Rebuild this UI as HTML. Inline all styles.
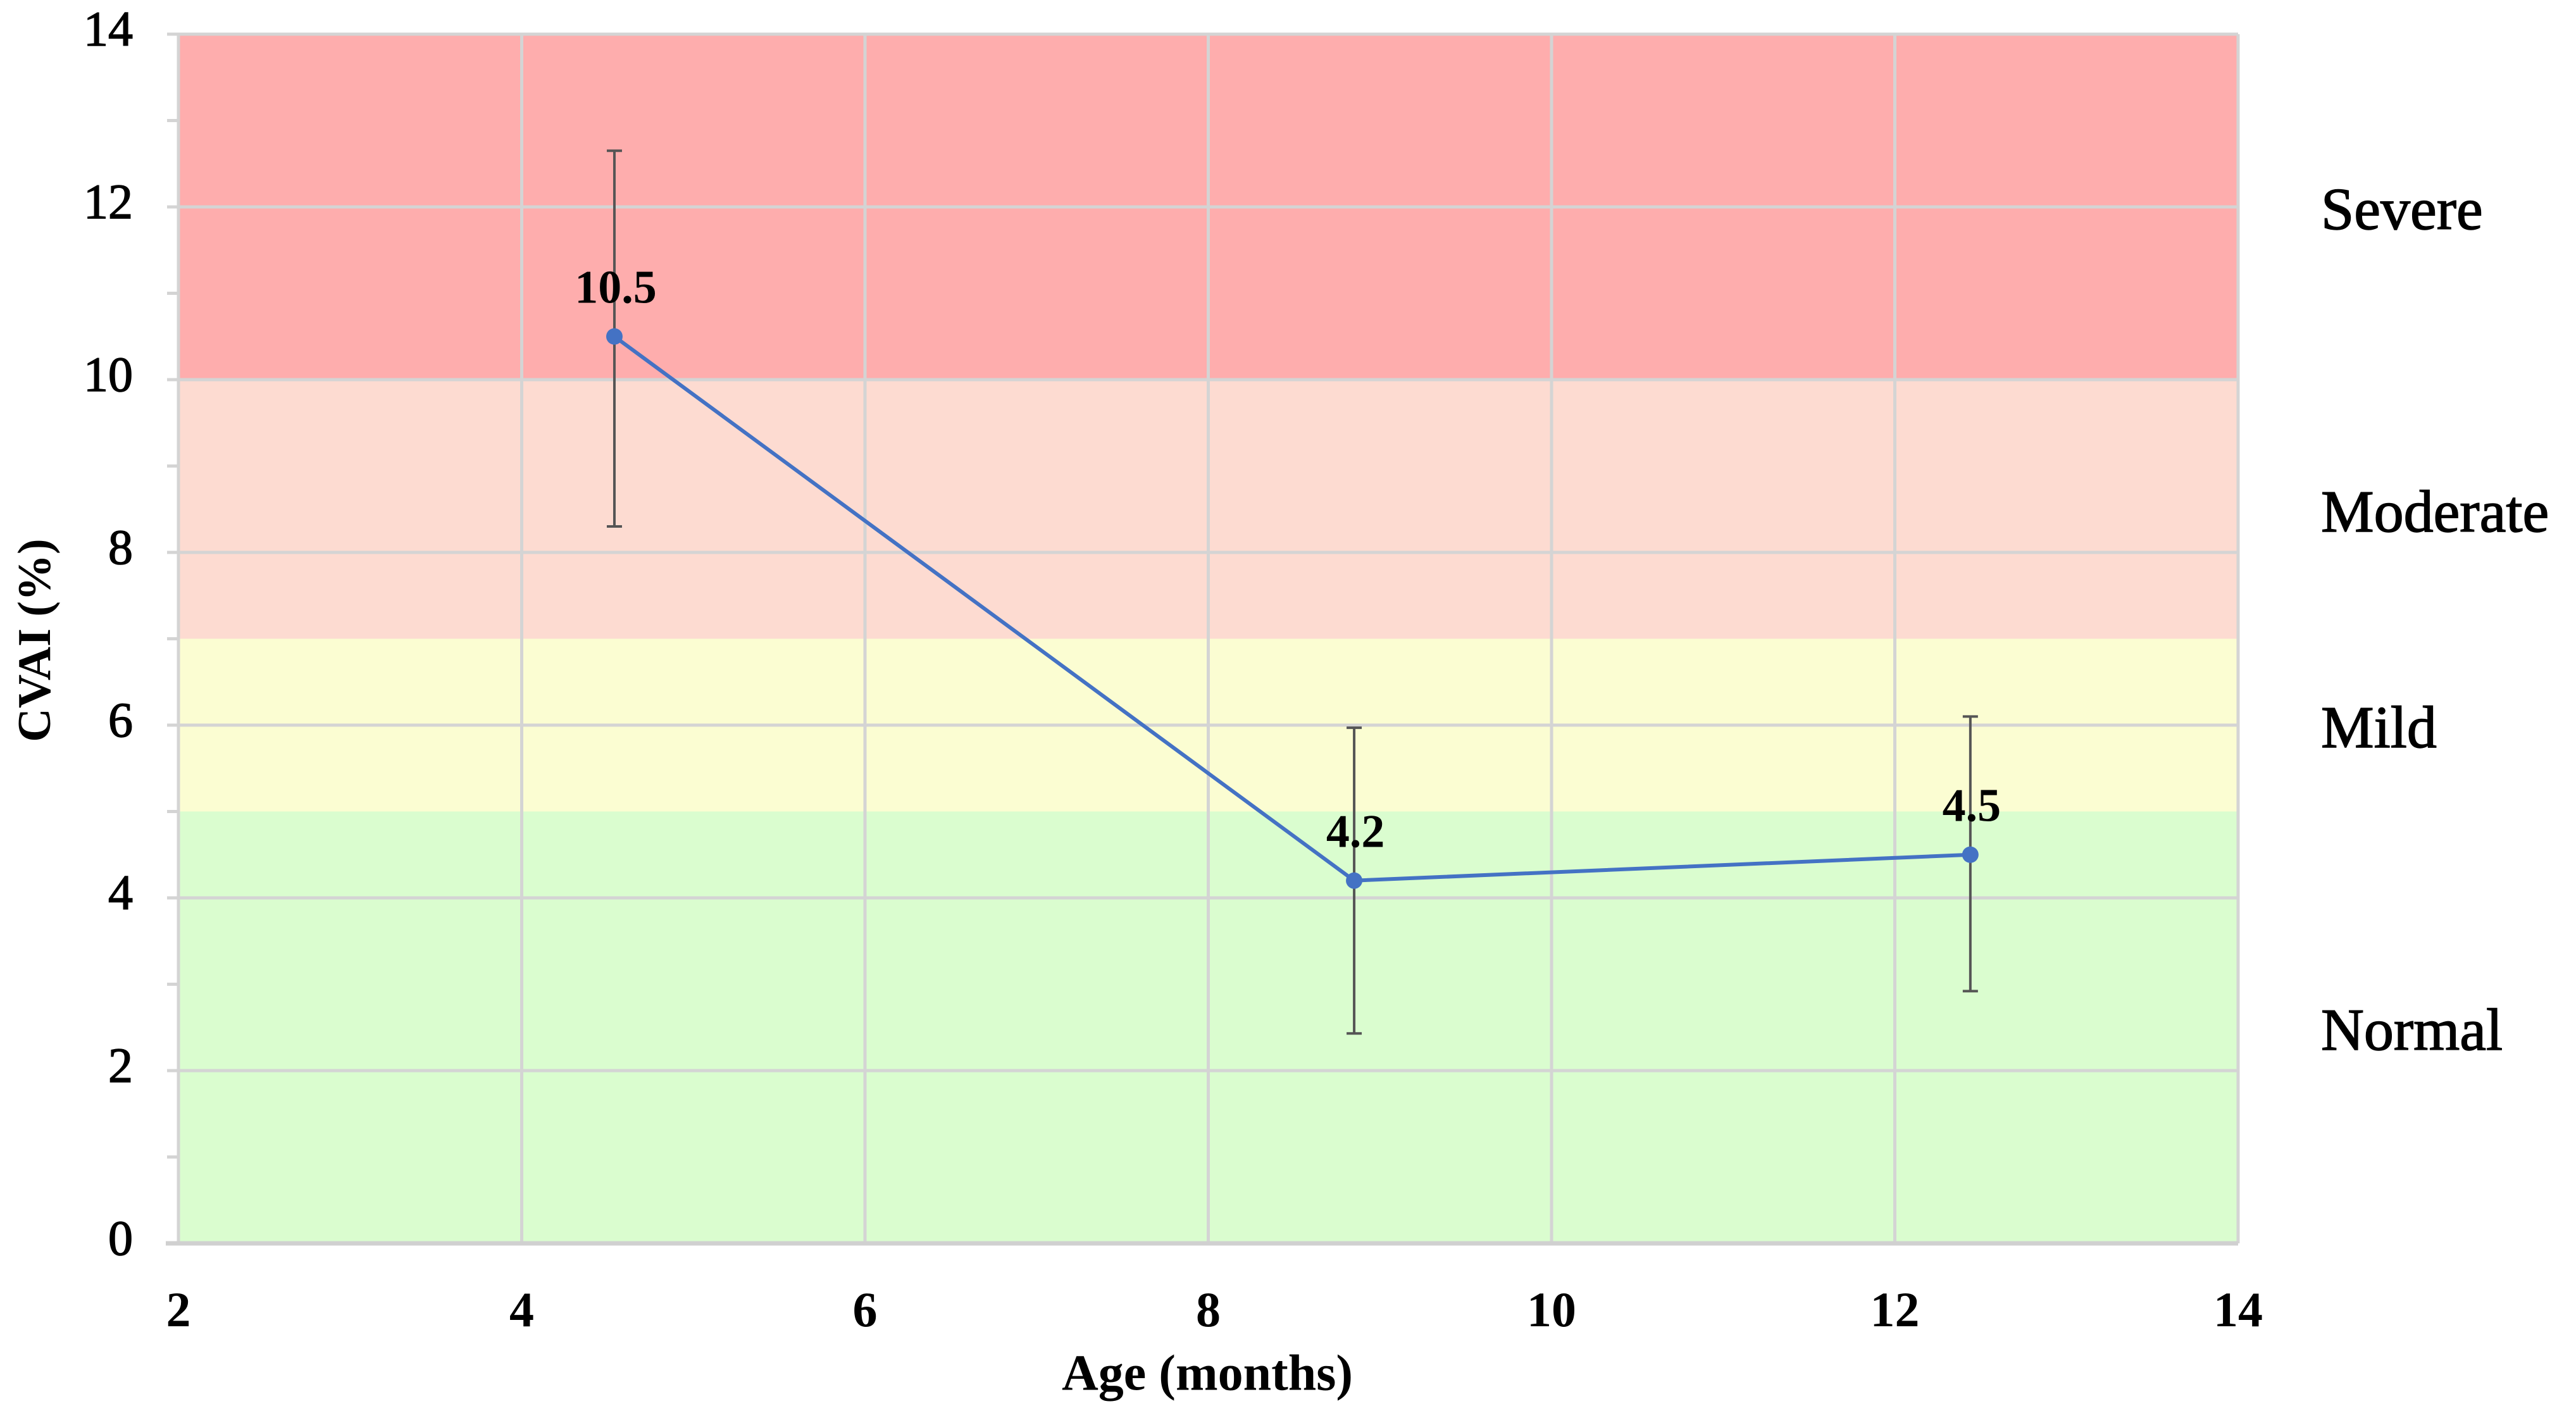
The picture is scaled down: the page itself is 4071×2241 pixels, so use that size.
<!DOCTYPE html>
<html><head><meta charset="utf-8"><style>
html,body{margin:0;padding:0;background:#fff;}
svg{display:block;font-family:"Liberation Serif",serif;}
</style></head><body>
<svg id="chart" width="4071" height="2241" viewBox="0 0 4071 2241" xmlns="http://www.w3.org/2000/svg">
<g id="bands"></g><g id="grid"></g><g id="axes"></g><g id="series"></g><g id="labels"></g>
</svg>
<script>
const xTicks = [2,4,6,8,10,12,14];
const yTicks = [0,2,4,6,8,10,12,14];
const ages = [4.54, 8.85, 12.44];
const cvai = [10.5, 4.2, 4.5];
const errHigh = [12.65, 5.97, 6.1];
const errLow = [8.3, 2.43, 2.92];
const valueLabels = ["10.5","4.2","4.5"];
const bandNames = ["Normal","Mild","Moderate","Severe"];
const bandLow = [0,5,7,10];
const bandHigh = [5,7,10,14];
const bandColors = ["#dafdcf","#fbfdd2","#fddbd1","#feadad"];
const bandLabelY = [2.4, 5.9, 8.4, 11.9];

const L=282,R=3537,T=54,B=1965;
const X=v=>L+(v-2)/(14-2)*(R-L);
const Y=v=>B-(v-0)/14*(B-T);
const NS="http://www.w3.org/2000/svg";
function mk(parent,tag,attrs){const e=document.createElementNS(NS,tag);for(const k in attrs)e.setAttribute(k,attrs[k]);document.getElementById(parent).appendChild(e);return e;}

bandLow.forEach((lo,i)=>{
  const r=mk('bands','rect',{x:L,y:Y(bandHigh[i]),width:R-L,height:Y(lo)-Y(bandHigh[i]),fill:bandColors[i]});
  
  
  const t=mk('labels','text',{x:3668,y:Y(bandLabelY[i]),'font-size':94,'dominant-baseline':'middle',fill:'#000',stroke:'#000','stroke-width':1.5});
  t.textContent=bandNames[i];
  
  
});
yTicks.forEach(v=>{
  const g=mk('grid','line',{x1:L,x2:R,y1:Y(v),y2:Y(v),stroke:'#d4d4d4','stroke-width':5});
  
  
  const tk=mk('axes','line',{x1:264,x2:L,y1:Y(v),y2:Y(v),stroke:'#d4d4d4','stroke-width':5});
  
  
  const t=mk('labels','text',{x:210,y:Y(v),'font-size':78,'text-anchor':'end','dominant-baseline':'middle',fill:'#000',stroke:'#000','stroke-width':1.5});
  t.textContent=v;
  
  
});
for(let i=0;i<yTicks.length-1;i++){
  const m=(yTicks[i]+yTicks[i+1])/2;
  const tk=mk('axes','line',{x1:264,x2:L,y1:Y(m),y2:Y(m),stroke:'#d4d4d4','stroke-width':5});
  
  
}
xTicks.forEach(v=>{
  const g=mk('grid','line',{x1:X(v),x2:X(v),y1:T,y2:B,stroke:'#d4d4d4','stroke-width':5});
  
  
  const t=mk('labels','text',{x:X(v),y:2078,'font-size':78,'font-weight':'bold','text-anchor':'middle','dominant-baseline':'middle',fill:'#000'});
  t.textContent=v;
  
  
});
const ax=mk('axes','line',{x1:L-20,x2:R,y1:B,y2:B,stroke:'#d0d0d0','stroke-width':7});



ages.forEach((a,i)=>{
  const e=mk('series','line',{x1:X(a),x2:X(a),y1:Y(errHigh[i]),y2:Y(errLow[i]),stroke:'#555','stroke-width':4});
  
  
  [errHigh[i],errLow[i]].forEach(v=>{
    const c=mk('series','line',{x1:X(a)-12,x2:X(a)+12,y1:Y(v),y2:Y(v),stroke:'#555','stroke-width':4});
    
    
  });
});
const pl=mk('series','polyline',{points:ages.map((a,i)=>X(a)+','+Y(cvai[i])).join(' '),fill:'none',stroke:'#4472c4','stroke-width':6});


ages.forEach((a,i)=>{
  const c=mk('series','circle',{cx:X(a),cy:Y(cvai[i]),r:13,fill:'#4472c4'});
  
  
  const t=mk('labels','text',{x:X(a)+2,y:Y(cvai[i])-70,'font-size':74,'font-weight':'bold','text-anchor':'middle','dominant-baseline':'middle',fill:'#000'});
  t.textContent=valueLabels[i];
  
  
});
const xt=mk('labels','text',{x:1908,y:2178,'font-size':80,'font-weight':'bold','text-anchor':'middle','dominant-baseline':'middle',fill:'#000'});
xt.textContent='Age (months)';


const yt=mk('labels','text',{x:0,y:0,'font-size':74,'font-weight':'bold','text-anchor':'middle','dominant-baseline':'middle',fill:'#000',transform:'translate(62,1012) rotate(-90)'});
yt.textContent='CVAI (%)';


</script>
</body></html>
